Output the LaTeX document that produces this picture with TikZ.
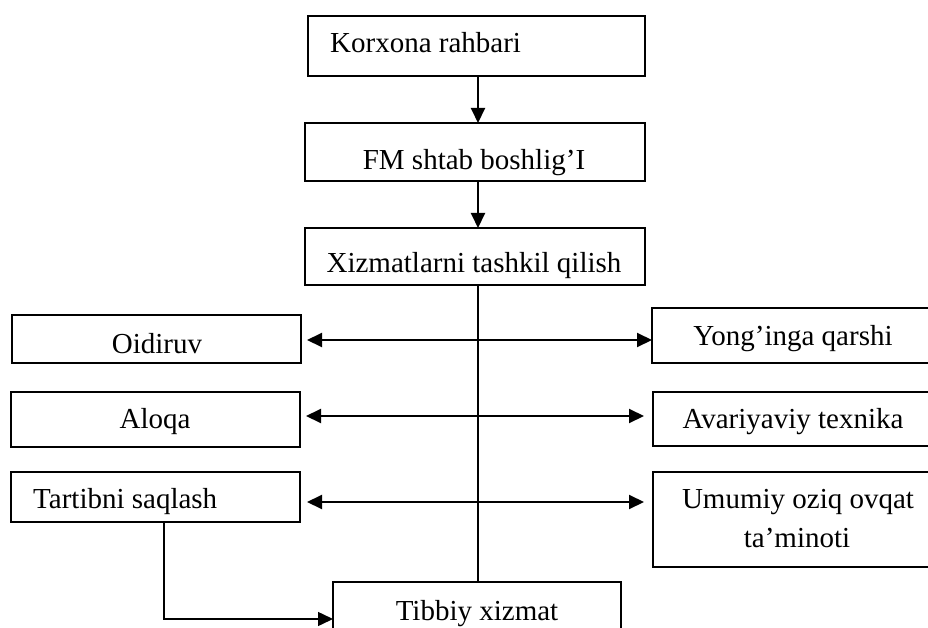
\documentclass[tikz,border=0pt]{standalone}
\usepackage{fontspec}
\setmainfont{Liberation Serif}
\usetikzlibrary{arrows.meta}
\begin{document}
\begin{tikzpicture}[x=1pt,y=-1pt,
 box/.style={draw,line width=1.5pt,inner sep=0pt,outer sep=0pt},
 txt/.style={inner sep=0pt,font=\fontsize{29}{34}\selectfont},
 conn/.style={line width=2pt,-{Triangle[length=15pt,width=14pt]}},
 dconn/.style={line width=2pt,{Triangle[length=15pt,width=14pt]}-{Triangle[length=15pt,width=14pt]}},
 plainline/.style={line width=1.5pt}]
\useasboundingbox (0,0) rectangle (928,628);
% boxes
\node[box,minimum width=337pt,minimum height=60pt] (kor) at (476.5,46) {};
\node[box,minimum width=340pt,minimum height=58pt] (fm) at (475,152) {};
\node[box,minimum width=340pt,minimum height=57pt] (xiz) at (475,256.5) {};
\node[box,minimum width=289pt,minimum height=48pt] (oid) at (156.5,339) {};
\node[box,minimum width=289pt,minimum height=55pt] (alo) at (155.5,419.5) {};
\node[box,minimum width=289pt,minimum height=50pt] (tar) at (155.5,497) {};
\node[box,minimum width=283pt,minimum height=55pt] (yon) at (793.5,335.5) {};
\node[box,minimum width=282pt,minimum height=54pt] (ava) at (794,419) {};
\node[box,minimum width=282pt,minimum height=95pt] (umu) at (794,519.5) {};
\node[box,minimum width=288pt,minimum height=68pt] (tib) at (477,616) {};
% texts
\node[txt,anchor=base west] (korT) at (330,53) {Korxona rahbari};
\node[txt,anchor=base] (fmT) at (474,170) {FM shtab boshlig’I};
\node[txt,anchor=base] (xizT) at (474,272) {Xizmatlarni tashkil qilish};
\node[txt,anchor=base] (oidT) at (157,353) {Oidiruv};
\node[txt,anchor=base] (aloT) at (155,428) {Aloqa};
\node[txt,anchor=base west] (tarT) at (33,508) {Tartibni saqlash};
\node[txt,anchor=base] (yonT) at (793,345) {Yong’inga qarshi};
\node[txt,anchor=base] (avaT) at (793,428) {Avariyaviy texnika};
\node[txt,anchor=base] (umuT) at (798,508) {Umumiy oziq ovqat};
\node[txt,anchor=base] (umuT2) at (797,547) {ta’minoti};
\node[txt,anchor=base] (tibT) at (477,620) {Tibbiy xizmat};
% connectors
\draw[conn] ([xshift=1.5pt]kor.south) -- ([xshift=1.5pt]kor.south |- fm.north);
\draw[conn] ([xshift=3pt]fm.south) -- ([xshift=3pt]fm.south |- xiz.north);
\draw[plainline] ([xshift=3pt]xiz.south) -- ([xshift=3pt]xiz.south |- tib.north);
\draw[dconn] ([shift={(6pt,-1pt)}]oid.east) -- ([shift={(0pt,-1pt)}]oid.east -| yon.west);
\draw[dconn] ([shift={(6pt,3.5pt)}]alo.east) -- ([shift={(-9pt,3.5pt)}]alo.east -| ava.west);
\draw[dconn] ([shift={(7pt,-5pt)}]tar.east) -- ([shift={(-9pt,-5pt)}]tar.east -| umu.west);
\draw[conn,line width=1.5pt] ([xshift=8.5pt]tar.south) |- ([yshift=-3pt]tib.west);
\end{tikzpicture}
\end{document}
